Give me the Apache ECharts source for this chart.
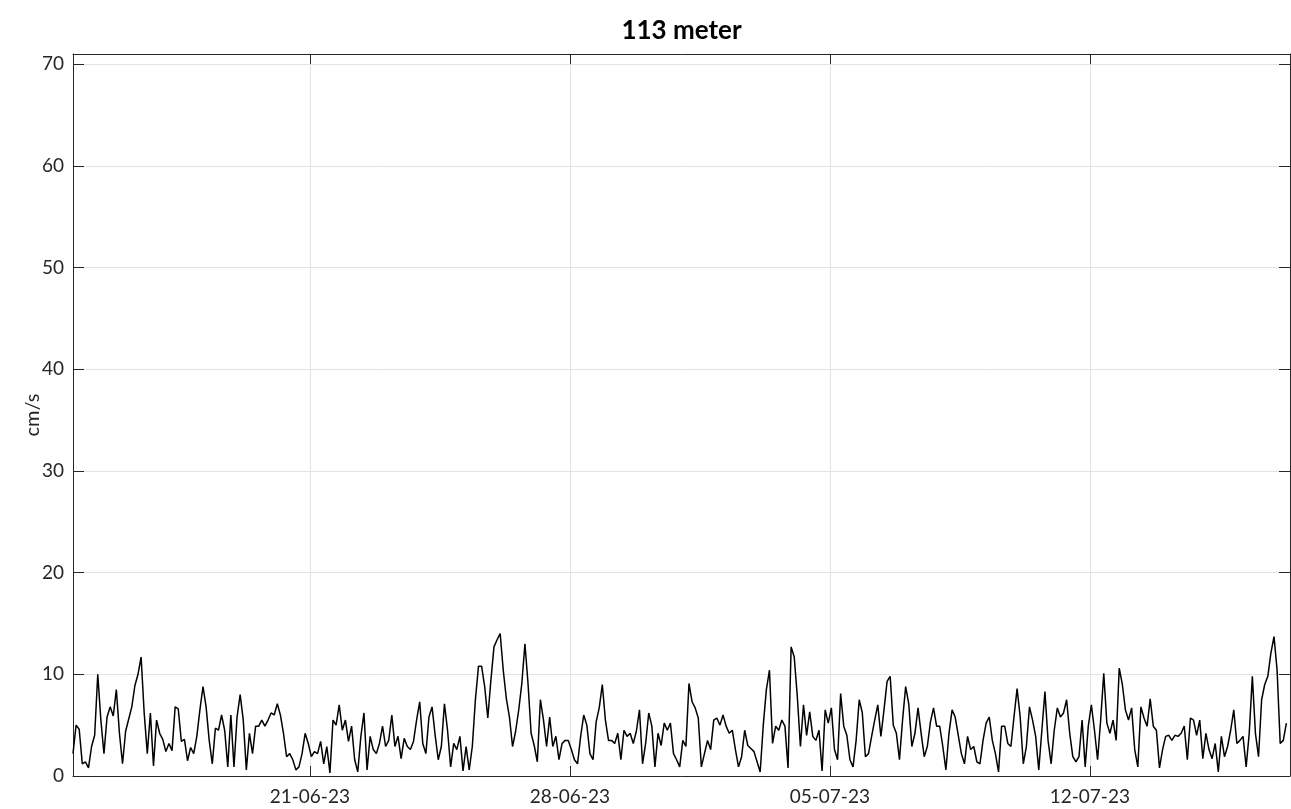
<!DOCTYPE html>
<html>
<head>
<meta charset="utf-8">
<title>113 meter</title>
<script src="https://cdn.jsdelivr.net/npm/echarts@6/dist/echarts.min.js"></script>
<style>
  html, body { margin: 0; padding: 0; background: #ffffff; }
  #chart { width: 1291px; height: 809px; }
</style>
</head>
<body>
<div id="chart"></div>
<script>
// Current speed record at 113 m depth, one value every two hours (cm/s)
const seriesStart = Date.UTC(2023, 5, 14, 15, 0);
const stepHours = 2;
const axisStart = Date.UTC(2023, 5, 14, 15, 0);
const axisEnd = Date.UTC(2023, 6, 17, 9, 20);

const speed = [
  2.2, 5.0, 4.6, 1.2, 1.4, 0.8, 2.9, 4.0, 10.0, 5.5,
  2.2, 5.8, 6.8, 5.9, 8.5, 4.2, 1.2, 4.4, 5.6, 6.8,
  8.9, 10.0, 11.7, 6.2, 2.2, 6.2, 1.0, 5.5, 4.2, 3.6,
  2.4, 3.2, 2.5, 6.8, 6.6, 3.4, 3.6, 1.5, 2.8,

  2.2, 3.9, 6.5, 8.8, 6.8, 3.5, 1.2, 4.7, 4.5, 6.0,
  4.5, 0.9, 6.0, 0.9, 5.8, 8.0, 5.5, 0.6, 4.2, 2.2,
  4.9, 4.9, 5.5, 4.9, 5.5, 6.2, 6.0, 7.1, 6.0, 4.2,
  1.9, 2.2, 1.6, 0.6, 0.9, 2.2, 4.2, 3.2, 1.9,

  2.4, 2.2, 3.4, 1.2, 2.9, 0.3, 5.5, 5.0, 7.0, 4.5,
  5.5, 3.4, 4.9, 1.6, 0.4, 3.9, 6.2, 0.6, 3.9, 2.6,
  2.2, 3.2, 4.9, 2.9, 3.5, 6.0, 2.9, 3.9, 1.7, 3.7,
  2.9, 2.6, 3.4, 5.5, 7.3, 3.2, 2.2, 5.8, 6.8, 4.0,

  1.6, 2.9, 7.1, 4.5, 0.9, 3.2, 2.6, 3.9, 0.5, 2.9,
  0.6, 2.9, 7.5, 10.8, 10.8, 8.8, 5.7, 9.4, 12.7, 13.4,
  14.0, 10.4, 7.6, 5.8, 2.9, 4.4, 6.5, 9.1, 13.0, 9.1,
  4.2, 3.0, 1.4, 7.5, 5.5, 2.9, 5.8, 2.9, 3.9,

  1.6, 3.2, 3.5, 3.5, 2.6, 1.6, 1.2, 3.9, 6.0, 5.0,
  2.2, 1.6, 5.3, 6.7, 9.0, 5.5, 3.5, 3.5, 3.2, 4.2,
  1.6, 4.5, 3.9, 4.2, 3.2, 4.4, 6.5, 1.2, 3.2, 6.2,
  4.9, 0.9, 4.2, 3.0, 5.2, 4.5, 5.2, 2.2, 1.6,

  0.9, 3.5, 2.9, 9.1, 7.3, 6.7, 5.7, 0.9, 2.2, 3.5,
  2.6, 5.5, 5.7, 5.0, 6.0, 4.9, 4.2, 4.5, 2.6, 0.9,
  1.9, 4.5, 3.0, 2.7, 2.4, 1.4, 0.4, 5.0, 8.5, 10.4,
  3.2, 4.9, 4.5, 5.5, 4.9, 0.8, 12.7, 11.7, 7.8, 2.9,

  7.0, 4.0, 6.3, 3.9, 3.5, 4.5, 0.5, 6.5, 5.2, 6.7,
  2.6, 1.6, 8.1, 4.9, 4.0, 1.6, 0.9, 3.5, 7.5, 6.2,
  1.9, 2.2, 3.9, 5.5, 7.0, 3.9, 6.5, 9.3, 9.8, 5.0,
  4.2, 1.6, 5.5, 8.8, 7.1, 2.9, 4.2, 6.7, 4.2,

  1.9, 2.9, 5.3, 6.7, 4.9, 4.9, 2.9, 0.6, 4.2, 6.5,
  5.8, 4.0, 2.2, 1.2, 3.9, 2.6, 2.9, 1.4, 1.2, 3.5,
  5.2, 5.8, 3.5, 2.2, 0.4, 4.9, 4.9, 3.2, 2.9, 5.8,
  8.6, 5.8, 1.2, 2.9, 6.8, 5.5, 3.9, 0.6, 4.5, 8.3,

  3.5, 1.2, 4.5, 6.7, 5.8, 6.2, 7.5, 4.2, 1.9, 1.4,
  1.9, 5.5, 0.9, 4.9, 7.0, 4.5, 1.6, 5.5, 10.1, 5.2,
  4.2, 5.5, 3.5, 10.6, 9.0, 6.5, 5.5, 6.7, 2.6, 0.9,
  6.8, 5.7, 4.9, 7.6, 4.9, 4.5, 0.8, 2.6, 3.9,

  4.0, 3.5, 4.0, 3.9, 4.2, 4.9, 1.6, 5.7, 5.5, 4.0,
  5.5, 1.7, 4.2, 2.6, 1.7, 3.2, 0.4, 3.9, 1.9, 2.9,
  4.5, 6.5, 3.2, 3.5, 3.9, 0.9, 4.2, 9.8, 4.2, 1.9,
  7.5, 9.0, 9.8, 12.1, 13.7, 10.4, 3.2, 3.5, 5.2
];

// Weekly date ticks on the time axis
const tickDates = [
  Date.UTC(2023, 5, 21),
  Date.UTC(2023, 5, 28),
  Date.UTC(2023, 6, 5),
  Date.UTC(2023, 6, 12)
];

// Speed axis
const yMin = 0;
const yMax = 71;
const yStep = 10;

const titleText = '113 meter';
const yAxisName = 'cm/s';

const points = speed.map((v, i) => [seriesStart + i * stepHours * 3600 * 1000, v]);

function pad2(n) { return (n < 10 ? '0' : '') + n; }
function fmtDate(ms) {
  const d = new Date(ms);
  return pad2(d.getUTCDate()) + '-' + pad2(d.getUTCMonth() + 1) + '-' + pad2(d.getUTCFullYear() % 100);
}

const axisColor = '#262626';
const gridColor = '#e3e3e3';
const fontFam = 'Lato, "Open Sans", "DejaVu Sans", sans-serif';

const gridLeft = 73, gridRight = 1, gridTop = 54, gridBottom = 33;
const chartWidth = 1291;

const chart = echarts.init(document.getElementById('chart'), null, { renderer: 'canvas' });

chart.setOption({
  animation: false,
  backgroundColor: '#ffffff',
  graphic: [
    {
      type: 'text',
      x: gridLeft + (chartWidth - gridLeft - gridRight) / 2,
      y: 31,
      style: {
        text: titleText,
        fontFamily: fontFam,
        fontSize: 26,
        fontWeight: 'bold',
        fill: '#000000',
        textAlign: 'center',
        textVerticalAlign: 'middle'
      }
    }
  ],
  grid: { left: gridLeft, right: gridRight, top: gridTop, bottom: gridBottom, containLabel: false },
  xAxis: [
    {
      type: 'value',
      position: 'bottom',
      min: axisStart,
      max: axisEnd,
      scale: true,
      axisLine: { show: true, onZero: false, lineStyle: { color: axisColor, width: 1 } },
      axisTick: { show: true, inside: true, length: 10, customValues: tickDates, lineStyle: { color: axisColor } },
      axisLabel: {
        show: true,
        customValues: tickDates,
        formatter: (v) => fmtDate(v),
        margin: 11,
        fontFamily: fontFam,
        fontSize: 19,
        color: '#262626'
      },
      splitLine: { show: true, lineStyle: { color: gridColor, width: 1 } }
    },
    {
      type: 'value',
      position: 'top',
      min: axisStart,
      max: axisEnd,
      scale: true,
      axisLine: { show: true, onZero: false, lineStyle: { color: axisColor, width: 1 } },
      axisTick: { show: true, inside: true, length: 10, customValues: tickDates, lineStyle: { color: axisColor } },
      axisLabel: { show: false },
      splitLine: { show: false }
    }
  ],
  yAxis: [
    {
      type: 'value',
      position: 'left',
      min: yMin,
      max: yMax,
      interval: yStep,
      name: yAxisName,
      nameLocation: 'middle',
      nameGap: 30,
      nameMoveOverlap: false,
      nameRotate: 90,
      nameTextStyle: { fontFamily: fontFam, fontSize: 20, color: '#262626' },
      axisLine: { show: true, onZero: false, lineStyle: { color: axisColor, width: 1 } },
      axisTick: { show: true, inside: true, length: 11, lineStyle: { color: axisColor } },
      axisLabel: {
        margin: 9,
        fontFamily: fontFam,
        fontSize: 19,
        color: '#262626',
        formatter: (v) => (v % yStep === 0 ? String(v) : '')
      },
      splitLine: { show: true, lineStyle: { color: gridColor, width: 1 } }
    },
    {
      type: 'value',
      position: 'right',
      min: yMin,
      max: yMax,
      interval: yStep,
      axisLine: { show: true, onZero: false, lineStyle: { color: axisColor, width: 1 } },
      axisTick: { show: true, inside: true, length: 11, lineStyle: { color: axisColor } },
      axisLabel: { show: false },
      splitLine: { show: false }
    }
  ],
  series: [
    {
      type: 'line',
      xAxisIndex: 0,
      yAxisIndex: 0,
      data: points,
      showSymbol: false,
      symbol: 'none',
      smooth: false,
      lineStyle: { color: '#000000', width: 1.5 },
      silent: true,
      z: 3
    }
  ]
});
</script>
</body>
</html>
